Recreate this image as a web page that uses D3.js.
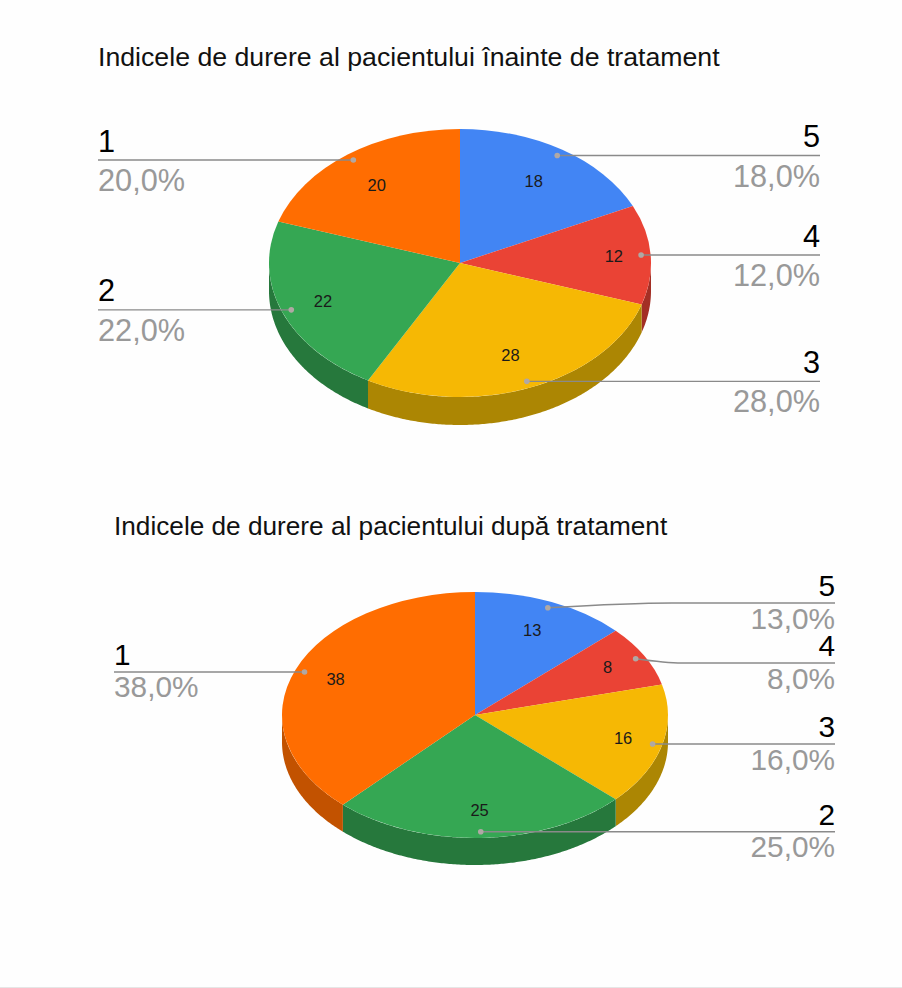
<!DOCTYPE html>
<html>
<head>
<meta charset="utf-8">
<script src="https://cdn.jsdelivr.net/npm/d3@7"></script>
<style>
body { margin: 0; background: #fefefe; }
text { font-family: "Liberation Sans", Arial, sans-serif; }
</style>
</head>
<body>
<div id="chart"></div>
<script>
// slices go clockwise from 12 o'clock
var categories = ["5", "4", "3", "2", "1"];
var valuesBefore = [18, 12, 28, 22, 20];
var valuesAfter = [13, 8, 16, 25, 38];
var percentBefore = ["18,0%", "12,0%", "28,0%", "22,0%", "20,0%"];
var percentAfter = ["13,0%", "8,0%", "16,0%", "25,0%", "38,0%"];
var titleBefore = "Indicele de durere al pacientului înainte de tratament";
var titleAfter = "Indicele de durere al pacientului după tratament";

var topColors = ["#4285f4", "#ea4335", "#f6b804", "#35a753", "#ff6d01"];
var sideColors = ["#2e5dab", "#a32f25", "#ac8603", "#26783c", "#c25200"];

var svg = d3.select("#chart").append("svg").attr("width", 902).attr("height", 988);

function drawPie(o) {
    var rxToRy = o.ry / o.rx;
    var slices = d3.pie().sort(null)(o.values);

    function px(a, r) { return o.cx + o.rx * r * Math.sin(a); }
    function py(a, r) { return o.cy - o.ry * r * Math.cos(a); }

    // side wall, only the part of each slice facing us
    var edge = d3.line();
    slices.forEach(function(s, i) {
        var a0 = Math.max(s.startAngle, Math.PI / 2);
        var a1 = Math.min(s.endAngle, Math.PI * 1.5);
        if (a1 <= a0) return;
        var angles = d3.range(a0, a1, 0.01).concat([a1]);
        var pts = angles.map(function(a) { return [px(a, 1), py(a, 1)]; });
        var low = angles.slice().reverse().map(function(a) { return [px(a, 1), py(a, 1) + o.depth]; });
        svg.append("path")
            .attr("d", edge(pts.concat(low)) + "Z")
            .attr("fill", sideColors[i]);
    });

    // top face is a normal d3 pie squashed vertically
    var arc = d3.arc().innerRadius(0).outerRadius(o.rx);
    var top = svg.append("g")
        .attr("transform", "translate(" + o.cx + "," + o.cy + ") scale(1," + rxToRy + ")");
    top.selectAll("path").data(slices).enter().append("path")
        .attr("d", arc)
        .attr("fill", function(d, i) { return topColors[i]; });

    svg.append("text")
        .attr("x", o.titleX).attr("y", o.titleY)
        .attr("font-size", o.titleSize).attr("fill", "#111")
        .text(o.title);

    var curve = d3.line().curve(d3.curveMonotoneX);

    slices.forEach(function(s, i) {
        var mid = (s.startAngle + s.endAngle) / 2;
        var dotX = px(mid, 0.95);
        var dotY = py(mid, 0.95);
        var left = dotX < o.cx && o.leftSide.indexOf(categories[i]) >= 0;
        var endX = left ? o.leftX : o.rightX;
        var lineY = o.elbow[categories[i]] ? o.elbow[categories[i]][1] : dotY;

        // leader line
        var pts;
        if (o.elbow[categories[i]]) {
            pts = [[dotX, dotY], o.elbow[categories[i]], [endX, lineY]];
        } else {
            pts = [[dotX, dotY], [endX, lineY]];
        }
        svg.append("path")
            .attr("d", curve(pts))
            .attr("fill", "none")
            .attr("stroke", "#8a8a8a")
            .attr("stroke-width", 1.4);
        svg.append("circle")
            .attr("cx", dotX).attr("cy", dotY).attr("r", 2.8)
            .attr("fill", "#b0a8a4");

        // value inside the slice
        svg.append("text")
            .attr("x", px(mid, 0.76) + o.nudge[i][0]).attr("y", py(mid, 0.76) + 6 + o.nudge[i][1])
            .attr("text-anchor", "middle")
            .attr("font-size", 16.5).attr("fill", "#1a1a1a")
            .text(o.values[i]);

        // category and percent next to the line
        svg.append("text")
            .attr("x", endX).attr("y", lineY + o.nameDy)
            .attr("text-anchor", left ? "start" : "end")
            .attr("font-size", o.labelSize).attr("fill", "#000")
            .text(categories[i]);
        svg.append("text")
            .attr("x", endX).attr("y", lineY + o.pctDy)
            .attr("text-anchor", left ? "start" : "end")
            .attr("font-size", o.labelSize).attr("fill", "#999")
            .text(o.percent[i]);
    });
}

drawPie({
    values: valuesBefore, percent: percentBefore, title: titleBefore,
    cx: 460, cy: 263, rx: 191, ry: 134, depth: 28,
    titleX: 98, titleY: 66, titleSize: 26.7,
    leftX: 98, rightX: 820, labelSize: 30.7, nameDy: -8.5, pctDy: 31,
    leftSide: ["1", "2"], elbow: {},
    nudge: [[-4, 4], [9, -1], [-3, -3], [-2, 1], [2, 4]]
});

drawPie({
    values: valuesAfter, percent: percentAfter, title: titleAfter,
    cx: 475, cy: 715, rx: 193, ry: 123, depth: 27,
    titleX: 114, titleY: 535, titleSize: 26.2,
    leftX: 114, rightX: 835, labelSize: 29.8, nameDy: -7, pctDy: 25.5,
    leftSide: ["1"], elbow: { "5": [672, 603], "4": [682, 663] },
    nudge: [[-1, 1], [4, -3], [6, 0], [0, 2], [-3, -2]]
});

// faint edge at the bottom of the page
svg.append("line")
    .attr("x1", 0).attr("x2", 902).attr("y1", 987.5).attr("y2", 987.5)
    .attr("stroke", "#e6e6e6");
</script>
</body>
</html>
